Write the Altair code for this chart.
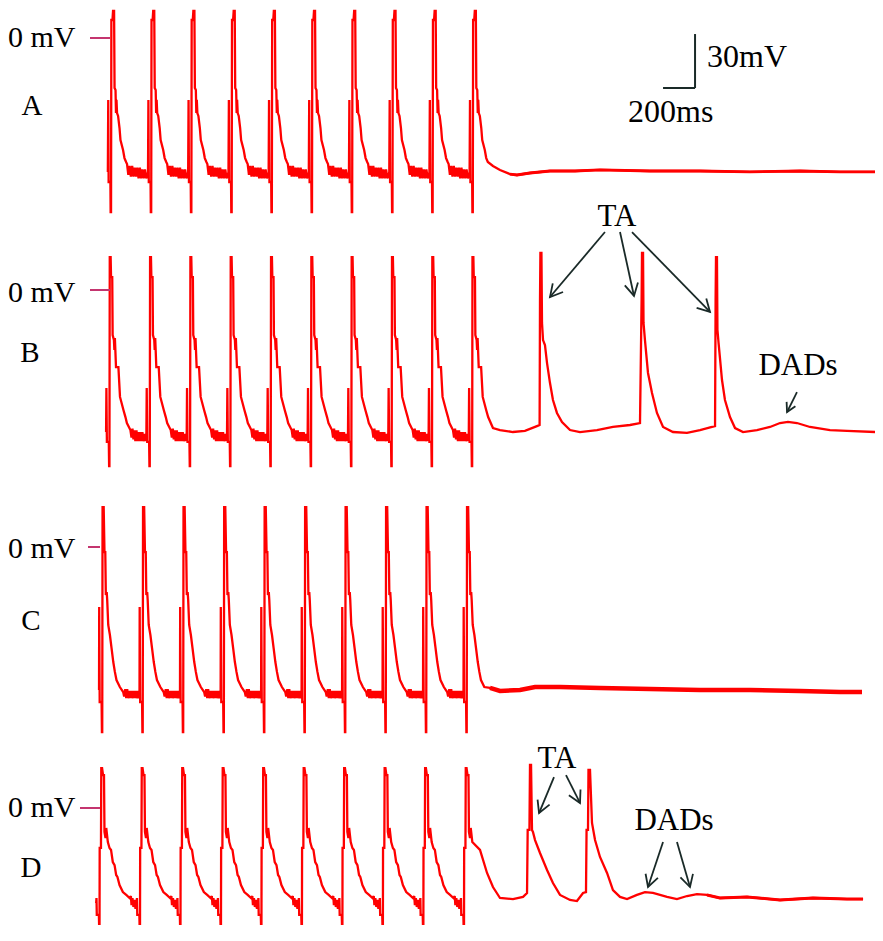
import math
import altair as alt
import pandas as pd

# ---------------- values (time in ms, voltage in mV) ----------------
# stimulus upstroke times of the paced beats, per panel
paces_A = [19, 270, 521, 773, 1024, 1275, 1526, 1778, 2029, 2280]
paces_B = [9, 261, 513, 765, 1017, 1269, 1521, 1773, 2025, 2276]
paces_C = [-36, 217, 470, 724, 977, 1230, 1483, 1736, 1989, 2242]
paces_D = [-53, 200, 453, 706, 959, 1212, 1465, 1718, 1971, 2225]

# one paced beat per panel: (ms after upstroke, mV)
beat_A = [(-20, -74.4), (-17.5, -34.4), (-15, -80), (-4, -80), (-2.5, -96.7), (0, -96.7), (2, 10), (9, 10),
          (12.5, 15), (19, 15), (22, -27.8), (28, -28.9), (31, -41.7), (34, -34.4), (37.5, -41.7), (44, -43.3),
          (53, -50), (59, -56.7), (75, -62.2), (84, -66.7), (94, -68.9), (100, -70), (108, -76), (116, -71),
          (124, -77), (132, -71), (140, -77), (148, -72), (156, -77), (164, -72), (172, -78), (180, -72),
          (188, -78), (196, -73), (204, -78), (212, -73), (220, -78), (228, -76)]
beat_B = [(-21, -78.9), (-19, -54.4), (-16, -84.4), (-4, -84.4), (-2, -97.8), (0, -97.8), (2, 18.3), (7.5, 18.3),
          (10, 7.2), (17.5, 7.2), (20, -25), (28, -27.8), (31, -33.3), (34, -26.7), (41, -42.8), (56, -42.8),
          (66, -59.4), (87.5, -66.7), (100, -70.6), (109, -73.9), (131, -77.8), (138, -82), (144, -77),
          (150, -83), (156, -78), (162, -84), (169, -78), (175, -84), (181, -79), (187, -84), (194, -79),
          (200, -84), (206, -79), (212, -84), (219, -80), (225, -84), (230, -81)]
beat_C = [(-20, -79.4), (-19, -33.3), (-16, -86.1), (-4, -86.1), (-2, -102.8), (0, -102.8), (2, 22.2), (9, 22.2),
          (14, -2.8), (19, -2.8), (22.5, -26.7), (28, -25), (31, -29.4), (37.5, -43.3), (48, -48.9), (58, -56.1),
          (69, -63.9), (79, -69.4), (89, -73.9), (110, -77.8), (131, -80.6), (137, -83), (144, -79), (150, -84),
          (156, -79), (162, -84), (169, -80), (175, -84), (181, -80), (187, -84), (194, -80), (200, -84),
          (206, -80), (212, -84), (219, -80), (225, -84), (232, -81)]
beat_D = [(-21, -52.8), (-19, -50), (-17, -59.4), (-4, -59.4), (-2, -66.7), (0, -66.7), (1, -22.2), (9, -22.2),
          (11, 22.2), (16, 22.2), (22, 18.3), (28, 18.3), (31, -13.3), (37.5, -16.7), (42, -11.1), (52, -18.9),
          (62.5, -22.2), (72, -23.3), (83, -30), (94, -31.7), (104, -37.2), (112, -38.3), (125, -42.8),
          (146, -46.7), (167, -48.3), (188, -50), (196, -49), (200, -54), (206, -50), (212, -55), (219, -51),
          (225, -56), (231, -53)]

# how far into the last paced beat the template is used (ms)
last_cut_A, last_cut_B, last_cut_C, last_cut_D = 94, 100, 110, 52

# traces after pacing stops (ms, mV)
tail_A = [(2406, -71.1), (2450, -73.3), (2512, -75.6), (2556, -76.1), (2637, -75), (2762, -73.9), (2919, -73.9),
          (3075, -73.3), (3387, -73.9), (3700, -73.9), (4012, -74.4), (4325, -73.9), (4575, -74.4), (4794, -74.4)]
tail_B = [(2406, -76.7), (2450, -77.8), (2531, -78.9), (2606, -78.3), (2681, -75.6), (2697.5, -75), (2700, -5.6),
          (2702.5, 20.6), (2709, 20.6), (2712.5, -18.3), (2719, -27.8), (2731, -30.6), (2744, -40.6),
          (2762.5, -51.7), (2781, -61.1), (2806, -68.3), (2837.5, -73.3), (2887.5, -77.8), (2950, -78.9),
          (3056, -77.8), (3156, -76.1), (3262.5, -75), (3325, -73.9), (3335, -5.6), (3337.5, 20.6), (3344, 20.6),
          (3347, -18.3), (3356, -27.8), (3375, -46.1), (3400, -57.2), (3431, -68.3), (3469, -76.1), (3531, -78.9),
          (3619, -79.4), (3700, -77.8), (3775, -76.1), (3794, -75.6), (3797.5, -5.6), (3800, 18.3), (3806, 18.3),
          (3809, -22.2), (3816, -29.4), (3837.5, -50), (3856, -61.1), (3887.5, -70.6), (3919, -76.7),
          (3969, -78.9), (4056, -77.8), (4137.5, -76.1), (4200, -73.9), (4250, -73.3), (4306, -73.9),
          (4387.5, -76.1), (4512.5, -77.8), (4619, -78.3), (4794, -78.9)]
tail_C = [(2387.5, -78.3), (2450, -80), (2575, -79.4), (2669, -77.8), (2825, -77.8), (3075, -78.3),
          (3387.5, -78.9), (3700, -79.4), (4012.5, -79.4), (4325, -80), (4575, -80.6), (4712.5, -80.6)]
tail_D = [(2325, -23.3), (2369, -36.1), (2406, -43.9), (2450, -50), (2531, -50.6), (2594, -49.4), (2619, -47.2),
          (2623, -12.2), (2634, -12.2), (2637.5, 23.9), (2644, 23.9), (2650, -12.2), (2656, -13.3), (2669, -17.8),
          (2700, -25), (2744, -34.4), (2781, -41.7), (2825, -48.3), (2887.5, -51.1), (2931, -51.7), (2969, -47.2),
          (2987.5, -46.7), (2991, -12.2), (3000, -12.2), (3003, 21.1), (3012.5, 21.1), (3025, -8.3),
          (3044, -17.8), (3075, -27.2), (3119, -36.1), (3156, -45.6), (3200, -49.4), (3244, -50.6),
          (3306, -48.3), (3356, -46.7), (3406, -47.2), (3494, -49.4), (3556, -50.6), (3619, -48.9),
          (3681, -47.8), (3744, -48.3), (3825, -50), (3994, -49.4), (4200, -51.1), (4406, -50), (4619, -50.6),
          (4719, -50.6)]

# text labels per panel: (ms, mV, text)
labels_A = [(-625, -5, "0 mV"), (-475, -42.8, "A")]
labels_B = [(-625, -6.7, "0 mV"), (-487.5, -40, "B")]
labels_C = [(-625, -6.1, "0 mV"), (-481, -46.1, "C")]
labels_D = [(-625, -5, "0 mV"), (-481, -38.3, "D")]
notes_B = [(3181, 35.6, "TA"), (4312.5, -47.2, "DADs")]
notes_D = [(2806, 22.2, "TA"), (3537.5, -12.2, "DADs")]

# 0 mV marker segments (ms from, ms to)
zero_tick_A = (-112.5, 12.5)
zero_tick_B = (-112.5, 12.5)
zero_tick_C = (-125, -50)
zero_tick_D = (-175, -50)

# arrows: (ms start, mV start, ms tip, mV tip)
arrows_B_TA = [(3106, 32.2, 2762.5, -3.9), (3200, 32.2, 3287.5, -3.3), (3275, 32.2, 3762.5, -12.2)]
arrows_B_DAD = [(4306, -56.7, 4244, -67.8)]
arrows_D = [(2787.5, 17.2, 2694, -2.8), (2862.5, 18.3, 2950, 2.8),
            (3469, -18.9, 3375, -43.9), (3556, -18.9, 3637.5, -43.9)]

# scale bar (corner in ms / mV, lengths)
bar_t0, bar_v0, bar_ms, bar_mv = 3469, -27.8, 200, 30
bar_texts = [(3744, -16.1, "30mV"), (3250, -46.7, "200ms")]

# ---------------- layout / style ----------------
W, H = 867, 917
MS_PER_PX = 6.25
PX_PER_MV = 1.8
T_MIN = -625.0
T_MAX = T_MIN + W * MS_PER_PX
V_MIN, V_MAX = -125.0, 45.0
ZERO_PX = {"A": 30, "B": 282, "C": 539, "D": 800}
RED = "#ff0000"
TICK = "#c4356f"
INK = "#1a2a28"
FONT = "Liberation Serif"
HEAD = "M -0.55 -1 L 0 0 L 0.55 -1"

xs = alt.Scale(domain=[T_MIN, T_MAX], zero=False, nice=False)


def ys(p):
    z = ZERO_PX[p]
    return alt.Scale(domain=[V_MIN, V_MAX], range=[z - V_MIN * PX_PER_MV, z - V_MAX * PX_PER_MV],
                     zero=False, nice=False)


def trace(paces, beat, cut, tail):
    pts = []
    for k, p in enumerate(paces):
        last = k == len(paces) - 1
        for dt, v in beat:
            if last and dt > cut:
                break
            pts.append((p + dt, v))
    pts.extend(tail)
    return pd.DataFrame({"t": [a for a, _ in pts], "v": [b for _, b in pts], "i": list(range(len(pts)))})


def line_layer(df, p, width=2.3):
    return alt.Chart(df).mark_line(color=RED, strokeWidth=width, strokeJoin="miter", strokeMiterLimit=2).encode(
        x=alt.X("t:Q", scale=xs, axis=None),
        y=alt.Y("v:Q", scale=ys(p), axis=None),
        order="i:Q",
    )


def text_layer(items, p, size, align="left"):
    df = pd.DataFrame({"t": [a[0] for a in items], "v": [a[1] for a in items], "s": [a[2] for a in items]})
    return alt.Chart(df).mark_text(font=FONT, fontSize=size, align=align, baseline="alphabetic",
                                   color="black").encode(
        x=alt.X("t:Q", scale=xs, axis=None), y=alt.Y("v:Q", scale=ys(p), axis=None), text="s:N")


def tick_layer(seg, p):
    df = pd.DataFrame({"t0": [seg[0]], "t1": [seg[1]], "v": [0.0]})
    return alt.Chart(df).mark_rule(color=TICK, strokeWidth=2).encode(
        x=alt.X("t0:Q", scale=xs, axis=None), x2="t1:Q", y=alt.Y("v:Q", scale=ys(p), axis=None))


def arrow_layers(arrows, p, head_size):
    rows = []
    for t0, v0, t1, v1 in arrows:
        dxp = (t1 - t0) / MS_PER_PX
        dyp = -(v1 - v0) * PX_PER_MV
        ang = math.degrees(math.atan2(-dxp, dyp)) % 360
        rows.append({"t0": t0, "v0": v0, "t1": t1, "v1": v1, "ang": ang})
    df = pd.DataFrame(rows)
    shaft = alt.Chart(df).mark_rule(color=INK, strokeWidth=1.8).encode(
        x=alt.X("t0:Q", scale=xs, axis=None), x2="t1:Q",
        y=alt.Y("v0:Q", scale=ys(p), axis=None), y2="v1:Q")
    head = alt.Chart(df).mark_point(shape=HEAD, filled=False, size=head_size, color=INK, strokeWidth=1.8,
                                    opacity=1, strokeJoin="miter").encode(
        x=alt.X("t1:Q", scale=xs, axis=None), y=alt.Y("v1:Q", scale=ys(p), axis=None),
        angle=alt.Angle("ang:Q", scale=None))
    return [shaft, head]


df_A = trace(paces_A, beat_A, last_cut_A, tail_A)
df_B = trace(paces_B, beat_B, last_cut_B, tail_B)
df_C = trace(paces_C, beat_C, last_cut_C, tail_C)
df_D = trace(paces_D, beat_D, last_cut_D, tail_D)

layers = []
for p, df, tick, labs in [("A", df_A, zero_tick_A, labels_A), ("B", df_B, zero_tick_B, labels_B),
                          ("C", df_C, zero_tick_C, labels_C), ("D", df_D, zero_tick_D, labels_D)]:
    layers.append(line_layer(df, p))
    layers.append(tick_layer(tick, p))
    layers.append(text_layer(labs[:1], p, 30))
    layers.append(text_layer(labs[1:], p, 29, align="center"))

# noisy flat stretches drawn a little heavier
layers.append(line_layer(df_A[df_A.t >= 2512], "A", 2.8))
layers.append(line_layer(df_C[df_C.t >= 2387], "C", 4.5))
layers.append(line_layer(df_D[df_D.t >= 3700], "D", 3.0))

# annotations
layers.append(text_layer(notes_B, "B", 31, align="center"))
layers.append(text_layer(notes_D, "D", 31, align="center"))
layers += arrow_layers(arrows_B_TA, "B", 600)
layers += arrow_layers(arrows_B_DAD, "B", 320)
layers += arrow_layers(arrows_D, "D", 560)

# scale bar
bar_df = pd.DataFrame({"t0": [bar_t0 + bar_ms, bar_t0], "t1": [bar_t0 + bar_ms, bar_t0 + bar_ms],
                       "v0": [bar_v0, bar_v0], "v1": [bar_v0 + bar_mv, bar_v0]})
layers.append(alt.Chart(bar_df).mark_rule(color=INK, strokeWidth=2).encode(
    x=alt.X("t0:Q", scale=xs, axis=None), x2="t1:Q",
    y=alt.Y("v0:Q", scale=ys("A"), axis=None), y2="v1:Q"))
layers.append(text_layer(bar_texts, "A", 32))

chart = alt.layer(*layers).resolve_scale(y="independent").properties(
    width=W, height=H, autosize=alt.AutoSizeParams(type="none"), padding=0
).configure_view(stroke=None)

chart.save("out.html", embed_options={"renderer": "svg", "actions": False})
